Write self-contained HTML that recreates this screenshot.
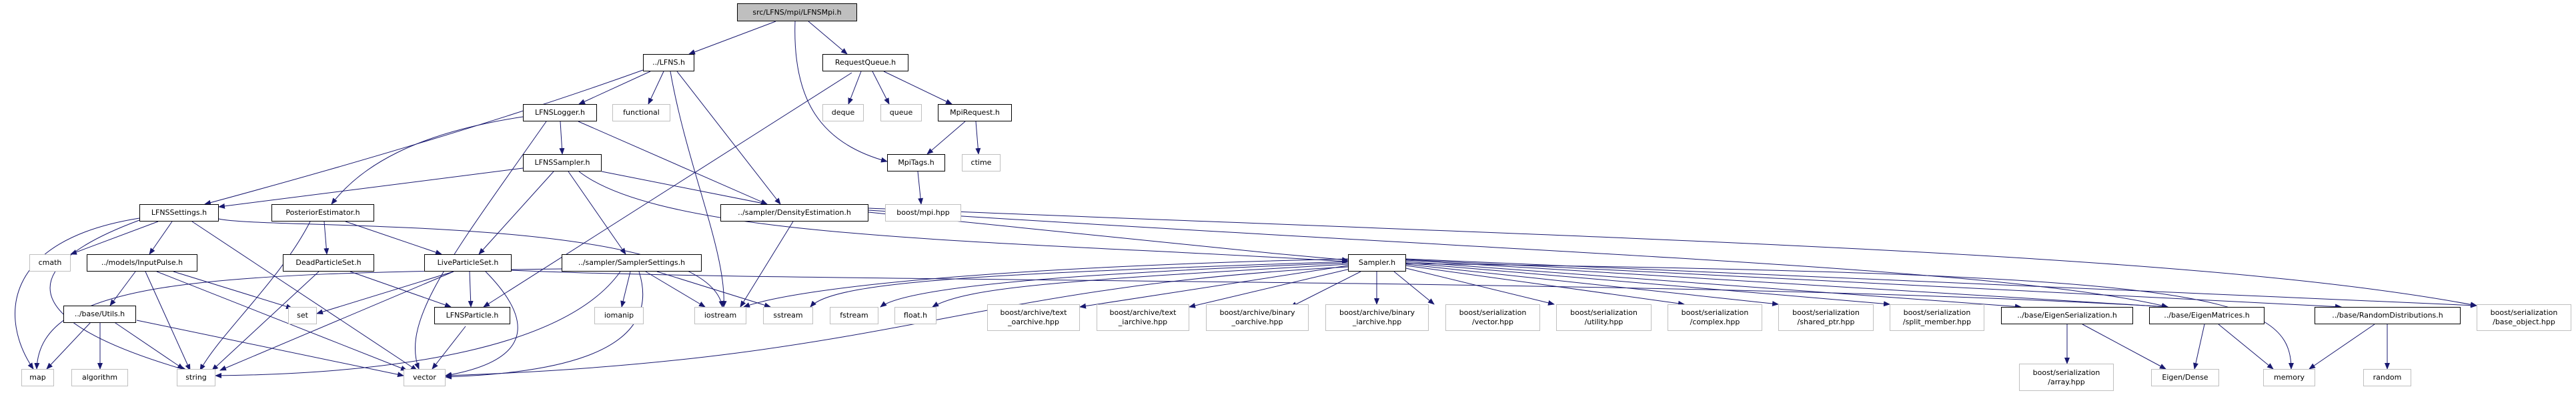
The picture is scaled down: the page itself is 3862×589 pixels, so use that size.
<!DOCTYPE html>
<html><head><meta charset="utf-8"><style>
body{margin:0;width:3862px;height:589px;background:#fff;position:relative;overflow:hidden;font-family:"DejaVu Sans","Liberation Sans",sans-serif;}
.n{position:absolute;box-sizing:border-box;border:1px solid #000;background:#fff;font-size:11px;color:#000;display:flex;align-items:center;justify-content:center;text-align:center;line-height:14px;white-space:nowrap;}
.g{border-color:#bfbfbf;}
svg{position:absolute;left:0;top:0;}
</style></head><body>
<svg width="3862" height="589" viewBox="0 0 3862 589">
<defs><marker id="a" markerWidth="10" markerHeight="8" refX="9" refY="4" orient="auto" markerUnits="userSpaceOnUse"><polygon points="0,0 10,4 0,8" fill="#191970"/></marker></defs>
<g fill="none" stroke="#191970" stroke-width="1" marker-end="url(#a)">
<path d="M1163,32 L1033,81"/>
<path d="M1212,32 L1270,81"/>
<path d="M1192,32 C1188,150 1230,215 1330,242"/>
<path d="M964,105 Q700,200 307,306"/>
<path d="M975,107 L868,156"/>
<path d="M995,107 L972,156"/>
<path d="M1005,107 C1030,250 1090,380 1085,460"/>
<path d="M1015,107 L1170,306"/>
<path d="M1277,109 L725,460"/>
<path d="M1291,107 L1272,156"/>
<path d="M1308,107 L1333,156"/>
<path d="M1325,107 L1427,156"/>
<path d="M1447,182 L1390,231"/>
<path d="M1463,182 L1467,231"/>
<path d="M1376,257 L1381,306"/>
<path d="M784,175 C620,200 540,250 497,306"/>
<path d="M819,182 C680,380 600,480 628,553"/>
<path d="M840,182 L843,231"/>
<path d="M867,182 L1150,306"/>
<path d="M784,252 L328,310"/>
<path d="M830,257 L718,381"/>
<path d="M852,257 L938,381"/>
<path d="M902,257 L1150,306"/>
<path d="M868,257 C1000,360 1500,360 2021,392"/>
<path d="M209,327 C0,360 0,480 50,553"/>
<path d="M209,330 C20,400 20,480 280,555"/>
<path d="M237,332 L106,381"/>
<path d="M258,332 L224,381"/>
<path d="M288,332 L625,555"/>
<path d="M328,328 C400,345 1060,320 1083,460"/>
<path d="M465,332 C420,420 330,500 300,555"/>
<path d="M486,332 L490,381"/>
<path d="M518,332 L662,381"/>
<path d="M1189,332 L1110,460"/>
<path d="M1302,318 C1600,350 1800,370 2021,390"/>
<path d="M1302,312 C2500,360 3300,380 3713,458"/>
<path d="M1302,315 C2300,380 3000,400 3250,460"/>
<path d="M203,407 L165,458"/>
<path d="M218,407 L285,555"/>
<path d="M235,407 L610,555"/>
<path d="M260,407 L438,462"/>
<path d="M478,407 L318,555"/>
<path d="M525,407 L676,460"/>
<path d="M842,403 C300,410 60,420 55,553"/>
<path d="M680,407 L475,470"/>
<path d="M680,407 L330,555"/>
<path d="M704,407 L706,460"/>
<path d="M728,407 C800,480 800,540 668,563"/>
<path d="M767,405 C1200,425 2500,415 3250,460"/>
<path d="M945,407 L932,460"/>
<path d="M968,407 L1057,460"/>
<path d="M985,407 L1155,460"/>
<path d="M930,407 C850,520 600,560 323,563"/>
<path d="M958,407 C1000,540 800,560 668,565"/>
<path d="M698,489 L648,553"/>
<path d="M137,482 L70,553"/>
<path d="M150,484 L150,553"/>
<path d="M170,482 L275,553"/>
<path d="M205,480 L605,563"/>
<path d="M2021,400 C1440,430 1340,540 668,563"/>
<path d="M2021,388 C1500,400 1200,430 1115,460"/>
<path d="M2021,392 C1500,410 1250,420 1215,460"/>
<path d="M2021,394 C1600,410 1360,430 1320,460"/>
<path d="M2021,396 C1600,420 1450,430 1398,460"/>
<path d="M2021,398 L1619,460"/>
<path d="M2024,403 L1783,460"/>
<path d="M2040,407 L1935,460"/>
<path d="M2064,407 L2064,456"/>
<path d="M2090,407 L2150,456"/>
<path d="M2108,402 L2330,456"/>
<path d="M2108,398 L2525,456"/>
<path d="M2108,396 L2666,456"/>
<path d="M2108,394 L2833,456"/>
<path d="M2108,392 L3030,460"/>
<path d="M2108,390 L3250,460"/>
<path d="M2108,389 L3510,460"/>
<path d="M2108,388 L3713,458"/>
<path d="M2108,395 C3300,410 3435,440 3435,553"/>
<path d="M3099,486 L3099,545"/>
<path d="M3122,486 L3247,553"/>
<path d="M3305,486 L3290,553"/>
<path d="M3326,486 L3408,553"/>
<path d="M3560,486 L3462,553"/>
<path d="M3579,486 L3579,553"/>
</g></svg>
<div class="n" style="left:1105px;top:5px;width:180px;height:27px;background:#bfbfbf">src/LFNS/mpi/LFNSMpi.h</div>
<div class="n" style="left:964px;top:81px;width:77px;height:26px">../LFNS.h</div>
<div class="n" style="left:1233px;top:81px;width:129px;height:26px">RequestQueue.h</div>
<div class="n" style="left:784px;top:156px;width:111px;height:26px">LFNSLogger.h</div>
<div class="n g" style="left:918px;top:156px;width:87px;height:26px">functional</div>
<div class="n g" style="left:1233px;top:156px;width:62px;height:26px">deque</div>
<div class="n g" style="left:1320px;top:156px;width:62px;height:26px">queue</div>
<div class="n" style="left:1406px;top:156px;width:111px;height:26px">MpiRequest.h</div>
<div class="n" style="left:784px;top:231px;width:118px;height:26px">LFNSSampler.h</div>
<div class="n" style="left:1330px;top:231px;width:87px;height:26px">MpiTags.h</div>
<div class="n g" style="left:1442px;top:231px;width:58px;height:26px">ctime</div>
<div class="n" style="left:209px;top:306px;width:119px;height:26px">LFNSSettings.h</div>
<div class="n" style="left:407px;top:306px;width:154px;height:26px">PosteriorEstimator.h</div>
<div class="n" style="left:1080px;top:306px;width:222px;height:26px">../sampler/DensityEstimation.h</div>
<div class="n g" style="left:1327px;top:306px;width:114px;height:26px">boost/mpi.hpp</div>
<div class="n g" style="left:44px;top:381px;width:62px;height:26px">cmath</div>
<div class="n" style="left:130px;top:381px;width:166px;height:26px">../models/InputPulse.h</div>
<div class="n" style="left:424px;top:381px;width:137px;height:26px">DeadParticleSet.h</div>
<div class="n" style="left:636px;top:381px;width:131px;height:26px">LiveParticleSet.h</div>
<div class="n" style="left:842px;top:381px;width:210px;height:26px">../sampler/SamplerSettings.h</div>
<div class="n" style="left:2021px;top:381px;width:87px;height:26px">Sampler.h</div>
<div class="n" style="left:95px;top:458px;width:109px;height:26px">../base/Utils.h</div>
<div class="n g" style="left:432px;top:460px;width:43px;height:26px">set</div>
<div class="n" style="left:651px;top:460px;width:114px;height:26px">LFNSParticle.h</div>
<div class="n g" style="left:891px;top:460px;width:74px;height:26px">iomanip</div>
<div class="n g" style="left:1041px;top:460px;width:78px;height:26px">iostream</div>
<div class="n g" style="left:1144px;top:460px;width:75px;height:26px">sstream</div>
<div class="n g" style="left:1244px;top:460px;width:73px;height:26px">fstream</div>
<div class="n g" style="left:1341px;top:460px;width:63px;height:26px">float.h</div>
<div class="n g" style="left:1480px;top:456px;width:139px;height:40px">boost/archive/text<br>_oarchive.hpp</div>
<div class="n g" style="left:1644px;top:456px;width:139px;height:40px">boost/archive/text<br>_iarchive.hpp</div>
<div class="n g" style="left:1808px;top:456px;width:154px;height:40px">boost/archive/binary<br>_oarchive.hpp</div>
<div class="n g" style="left:1987px;top:456px;width:155px;height:40px">boost/archive/binary<br>_iarchive.hpp</div>
<div class="n g" style="left:2167px;top:456px;width:142px;height:40px">boost/serialization<br>/vector.hpp</div>
<div class="n g" style="left:2333px;top:456px;width:143px;height:40px">boost/serialization<br>/utility.hpp</div>
<div class="n g" style="left:2500px;top:456px;width:142px;height:40px">boost/serialization<br>/complex.hpp</div>
<div class="n g" style="left:2666px;top:456px;width:143px;height:40px">boost/serialization<br>/shared_ptr.hpp</div>
<div class="n g" style="left:2833px;top:456px;width:142px;height:40px">boost/serialization<br>/split_member.hpp</div>
<div class="n" style="left:3000px;top:460px;width:198px;height:26px">../base/EigenSerialization.h</div>
<div class="n" style="left:3222px;top:460px;width:173px;height:26px">../base/EigenMatrices.h</div>
<div class="n" style="left:3470px;top:460px;width:219px;height:26px">../base/RandomDistributions.h</div>
<div class="n g" style="left:3713px;top:456px;width:142px;height:40px">boost/serialization<br>/base_object.hpp</div>
<div class="n g" style="left:32px;top:553px;width:49px;height:26px">map</div>
<div class="n g" style="left:107px;top:553px;width:85px;height:26px">algorithm</div>
<div class="n g" style="left:265px;top:553px;width:58px;height:26px">string</div>
<div class="n g" style="left:605px;top:553px;width:63px;height:26px">vector</div>
<div class="n g" style="left:3027px;top:545px;width:142px;height:41px">boost/serialization<br>/array.hpp</div>
<div class="n g" style="left:3225px;top:553px;width:102px;height:26px">Eigen/Dense</div>
<div class="n g" style="left:3393px;top:553px;width:78px;height:26px">memory</div>
<div class="n g" style="left:3543px;top:553px;width:72px;height:26px">random</div>
</body></html>
